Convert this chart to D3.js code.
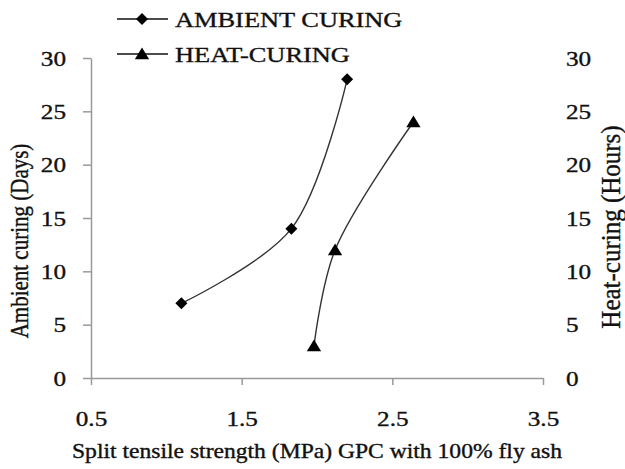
<!DOCTYPE html>
<html><head><meta charset="utf-8">
<script src="https://cdn.jsdelivr.net/npm/d3@7"></script>
<style>
html,body{margin:0;padding:0;background:#fff;}
svg{display:block;}
svg text{font-family:"Liberation Serif","Tinos","DejaVu Serif",serif !important;fill:#111;stroke:#111;stroke-width:0.35px;}
</style></head>
<body>
<svg id="chart" width="625" height="469"></svg>
<script>
// ---- data ----
const xTicks = [0.5, 1.5, 2.5, 3.5];
const yTicks = [0, 5, 10, 15, 20, 25, 30];
const ambientStrength = [1.1, 1.83, 2.2];
const ambientDays = [7, 14, 28];
const heatStrength = [1.98, 2.12, 2.64];
const heatHours = [3, 12, 24];
const seriesNames = ["AMBIENT CURING", "HEAT-CURING"];
const xTitle = "Split tensile strength (MPa) GPC with 100% fly ash";
const yLeftTitle = "Ambient curing (Days)";
const yRightTitle = "Heat-curing (Hours)";

// ---- layout ----
const SX = 1.2; // horizontal stretch of the text, as in the reference
const FONT = '"Liberation Serif","Tinos","DejaVu Serif",serif';
const svg = d3.select("#chart");
const x = d3.scaleLinear().domain([0.5, 3.5]).range([91, 543]);
const yL = d3.scaleLinear().domain([0, 30]).range([378, 58]);
const yR = d3.scaleLinear().domain([0, 30]).range([378, 58]);
const axisColor = "#999";

function styleText(sel, size) {
  sel.attr("font-size", size).attr("fill", "#111").attr("font-family", FONT)
     .style("font-family", FONT);
}

// left axis
const gL = svg.append("g").attr("transform", "translate(91,0)")
  .call(d3.axisLeft(yL).tickValues(yTicks).tickSize(8).tickSizeOuter(0));
gL.attr("font-family", null).attr("font-size", null);
gL.selectAll("path.domain,line").attr("stroke", axisColor).attr("stroke-width", 1.5);
gL.selectAll("text").attr("x", null).attr("dy", "0.34em")
  .attr("transform", `translate(-25,0) scale(${SX},1)`)
  .attr("text-anchor", "end").call(styleText, 21);

// bottom axis
const gB = svg.append("g").attr("transform", "translate(0,378)")
  .call(d3.axisBottom(x).tickValues(xTicks).tickFormat(d3.format(".1f")).tickSize(7).tickSizeOuter(0));
gB.attr("font-family", null).attr("font-size", null);
gB.selectAll("path.domain,line").attr("stroke", axisColor).attr("stroke-width", 1.5);
gB.selectAll("text").attr("y", null).attr("dy", null)
  .attr("transform", `translate(0,48) scale(${SX},1)`)
  .attr("text-anchor", "middle").call(styleText, 21);

// right axis (labels only)
const gR = svg.append("g").attr("transform", "translate(543,0)")
  .call(d3.axisRight(yR).tickValues(yTicks).tickSize(0));
gR.attr("font-family", null).attr("font-size", null);
gR.select("path.domain").remove();
gR.selectAll("line").remove();
gR.selectAll("text").attr("x", null).attr("dy", "0.34em")
  .attr("transform", `translate(23,0) scale(${SX},1)`)
  .attr("text-anchor", "start").call(styleText, 21);

// titles
svg.append("text").text(xTitle).attr("text-anchor", "middle")
  .attr("transform", `translate(317,458) scale(1.18,1)`).call(styleText, 20);
svg.append("text").text(yLeftTitle).attr("text-anchor", "middle")
  .attr("transform", `translate(28,241) scale(${SX},1) rotate(-90)`).call(styleText, 21);
svg.append("text").text(yRightTitle).attr("text-anchor", "middle")
  .attr("transform", `translate(620,227) scale(1.05,1) rotate(-90)`).call(styleText, 25);

// markers
const diamond = s => `M0,${-s}L${s},0L0,${s}L${-s},0Z`;
const triangle = s => `M0,${-s}L${s*1.1},${s*0.8}L${-s*1.1},${s*0.8}Z`;

const line = d3.line().curve(d3.curveCatmullRom.alpha(0.5));
const ambient = ambientStrength.map((v, i) => [x(v), yL(ambientDays[i])]);
const heat = heatStrength.map((v, i) => [x(v), yR(heatHours[i])]);

svg.append("path").attr("d", line(ambient)).attr("fill", "none")
  .attr("stroke", "#333").attr("stroke-width", 1.4);
svg.append("path").attr("d", line(heat)).attr("fill", "none")
  .attr("stroke", "#333").attr("stroke-width", 1.4);

svg.selectAll("path.amb").data(ambient).join("path").attr("class", "amb")
  .attr("d", diamond(6)).attr("transform", d => `translate(${d[0]},${d[1]})`).attr("fill", "#000");
svg.selectAll("path.heat").data(heat).join("path").attr("class", "heat")
  .attr("d", triangle(6.5)).attr("transform", d => `translate(${d[0]},${d[1]})`).attr("fill", "#000");

// legend
const legY = [19, 54];
const lg = svg.append("g");
legY.forEach((ly, i) => {
  lg.append("line").attr("x1", 117).attr("x2", 168).attr("y1", ly).attr("y2", ly)
    .attr("stroke", "#111").attr("stroke-width", 1.5);
  lg.append("path").attr("d", i === 0 ? diamond(6) : triangle(6.5))
    .attr("transform", `translate(142,${ly})`).attr("fill", "#000");
  lg.append("text").text(seriesNames[i])
    .attr("transform", `translate(175,${ly + 8}) scale(${SX},1)`).call(styleText, 22);
});
</script>
</body></html>
